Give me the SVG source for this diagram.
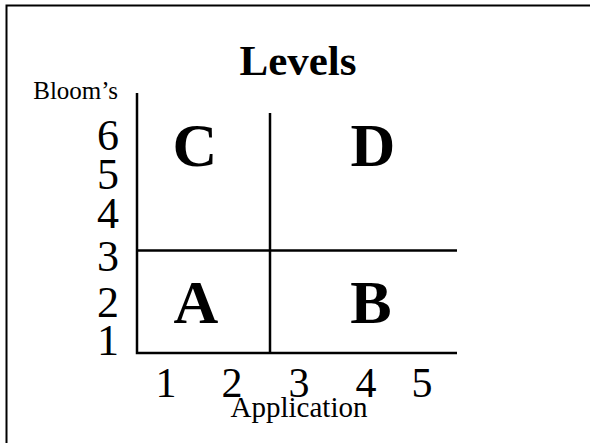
<svg xmlns="http://www.w3.org/2000/svg" width="590" height="443" viewBox="0 0 590 443">
<style>
.t{font-family:"Liberation Serif","Times New Roman",serif;fill:#000}
.b{font-weight:bold}
.ln{stroke:#000;stroke-width:2.5;fill:none}
</style>
<rect width="590" height="443" fill="#fff"/>
<path d="M6.5 443 V5.5 H590" stroke="#000" stroke-width="2" fill="none"/>
<g id="title"><text class="t b" x="298" y="75" font-size="43" text-anchor="middle">Levels</text></g>
<g id="y-axis-label"><text class="t" x="118" y="99" font-size="25" text-anchor="end">Bloom’s</text></g>
<g id="y-ticks" class="t" font-size="44" text-anchor="end">
<text class="t" x="119" y="150">6</text>
<text class="t" x="119" y="189">5</text>
<text class="t" x="119" y="228">4</text>
<text class="t" x="119" y="271">3</text>
<text class="t" x="119" y="317">2</text>
<text class="t" x="119" y="355">1</text>
</g>
<g id="x-ticks" class="t" font-size="42" text-anchor="middle">
<text class="t" x="166" y="397">1</text>
<text class="t" x="232" y="397">2</text>
<text class="t" x="299" y="397">3</text>
<text class="t" x="366" y="397">4</text>
<text class="t" x="422" y="397">5</text>
</g>
<g id="x-axis-label"><text class="t" x="299" y="417" font-size="29" text-anchor="middle">Application</text></g>
<g id="connectors">
<path class="ln" d="M137 93 V353 H457"/>
<path class="ln" d="M137 250.5 H457"/>
<path class="ln" d="M270 113 V353"/>
</g>
<g id="quadrant-C"><text class="t b" x="195" y="166" font-size="62" text-anchor="middle">C</text></g>
<g id="quadrant-D"><text class="t b" x="373" y="166" font-size="62" text-anchor="middle">D</text></g>
<g id="quadrant-A"><text class="t b" x="196" y="323" font-size="62" text-anchor="middle">A</text></g>
<g id="quadrant-B"><text class="t b" x="371" y="323" font-size="62" text-anchor="middle">B</text></g>
</svg>
